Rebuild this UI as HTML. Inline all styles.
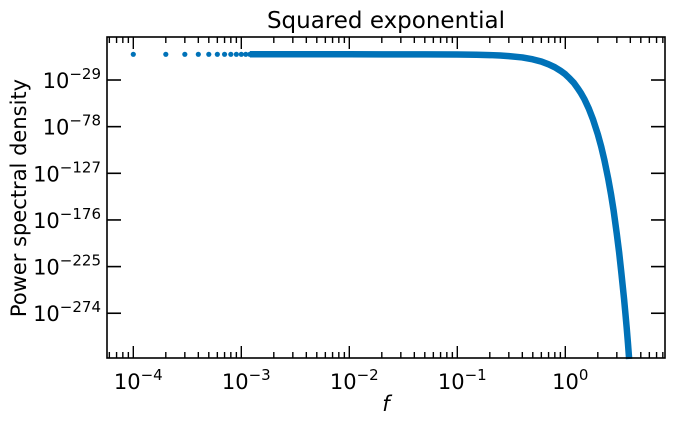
<!DOCTYPE html>
<html><head><meta charset="utf-8"><style>
body{margin:0;background:#fff;}
svg{display:block;font-family:"DejaVu Sans","Liberation Sans",sans-serif;}
</style></head><body>
<svg id="chart" width="675" height="425" viewBox="0 0 675 425" xmlns="http://www.w3.org/2000/svg">
<text x="386" y="28" font-size="23" text-anchor="middle" fill="#000">Squared exponential</text>
<text transform="translate(26,198) rotate(-90)" font-size="21" text-anchor="middle" fill="#000">Power spectral density</text>
<text x="386" y="411" font-size="21" font-style="italic" text-anchor="middle" fill="#000">f</text>
<g id="ticks"></g>
<g id="series"></g>
<rect x="107" y="37" width="558" height="321" fill="none" stroke="#000" stroke-width="1.6"/>
</svg>
<script>
// data
const sparseFreq = [0.0001,0.0002,0.0003,0.0004,0.0005,0.0006,0.0007,0.0008,0.0009,0.001,0.0011,0.0012];
const sparseLogPsd = [-2,-2,-2,-2,-2,-2,-2,-2,-2,-2,-2,-2];
const denseFreq = [0.0012,0.01,0.05,0.1,0.15,0.2,0.25,0.3,0.4,0.5,0.6,0.7,0.8,0.9,1,1.1,1.2,1.3,1.4,1.5,1.65,1.8,2,2.15,2.3,2.5,2.65,2.8,3,3.15,3.3,3.5,3.6,3.7,3.8,3.9];
const denseLogPsd = [-2,-2,-2.1,-2.2,-2.5,-2.8,-3.3,-3.9,-5.3,-7.3,-9.6,-12.5,-15.6,-19.2,-23,-27.5,-32,-37.5,-43,-49,-59,-70,-86,-99,-113,-133,-149,-166,-191,-210,-231,-259,-274,-289,-305,-322];
const xTickExps = [-4,-3,-2,-1,0];
const yTickExps = [-29,-78,-127,-176,-225,-274];

const L=107,R=665,T=37,B=358;
const xs = f => 565.3 + 108*Math.log10(f);
const ys = lg => 52.4 - 0.952*lg;
const NS="http://www.w3.org/2000/svg";
const ticks=document.getElementById('ticks');
const series=document.getElementById('series');
function mk(tag,attrs,parent){const e=document.createElementNS(NS,tag);for(const k in attrs)e.setAttribute(k,attrs[k]);parent.appendChild(e);return e;}

for(let e=-5;e<=1;e++){
  for(let m=1;m<10;m++){
    const x=xs(m*Math.pow(10,e));
    if(x<L||x>R)continue;
    const len=m===1?12:6;
    const t1=mk('line',{x1:x,x2:x,y1:B,y2:B-len,stroke:'#000','stroke-width':1.4},ticks);
    
    
    const t2=mk('line',{x1:x,x2:x,y1:T,y2:T+len,stroke:'#000','stroke-width':1.4},ticks);
    
    
  }
}
xTickExps.forEach(e=>{
  const x=xs(Math.pow(10,e));
  const t=mk('text',{x:x+5,y:389,'font-size':21,'text-anchor':'middle',fill:'#000'},ticks);
  
  
  t.innerHTML='10<tspan dy="-9" font-size="15">'+(e<0?'\u2212'+(-e):e)+'</tspan>';
});
yTickExps.forEach(e=>{
  const y=ys(e);
  const a=mk('line',{x1:L,x2:L+14,y1:y,y2:y,stroke:'#000','stroke-width':1.6},ticks);
  
  
  const b=mk('line',{x1:R,x2:R-14,y1:y,y2:y,stroke:'#000','stroke-width':1.6},ticks);
  
  
  const t=mk('text',{x:101,y:y+8,'font-size':21,'text-anchor':'end',fill:'#000'},ticks);
  
  
  t.innerHTML='10<tspan dy="-9" font-size="15">\u2212'+(-e)+'</tspan>';
});
sparseFreq.forEach((f,i)=>{
  const c=mk('circle',{cx:xs(f),cy:ys(sparseLogPsd[i]),r:2.6,fill:'#0072b8'},series);
  
  
});
const pts=denseFreq.map((f,i)=>xs(f)+','+ys(denseLogPsd[i])).join(' ');
const pl=mk('polyline',{points:pts,fill:'none',stroke:'#0072b8','stroke-width':6.5,'stroke-linejoin':'round'},series);


</script>
</body></html>
